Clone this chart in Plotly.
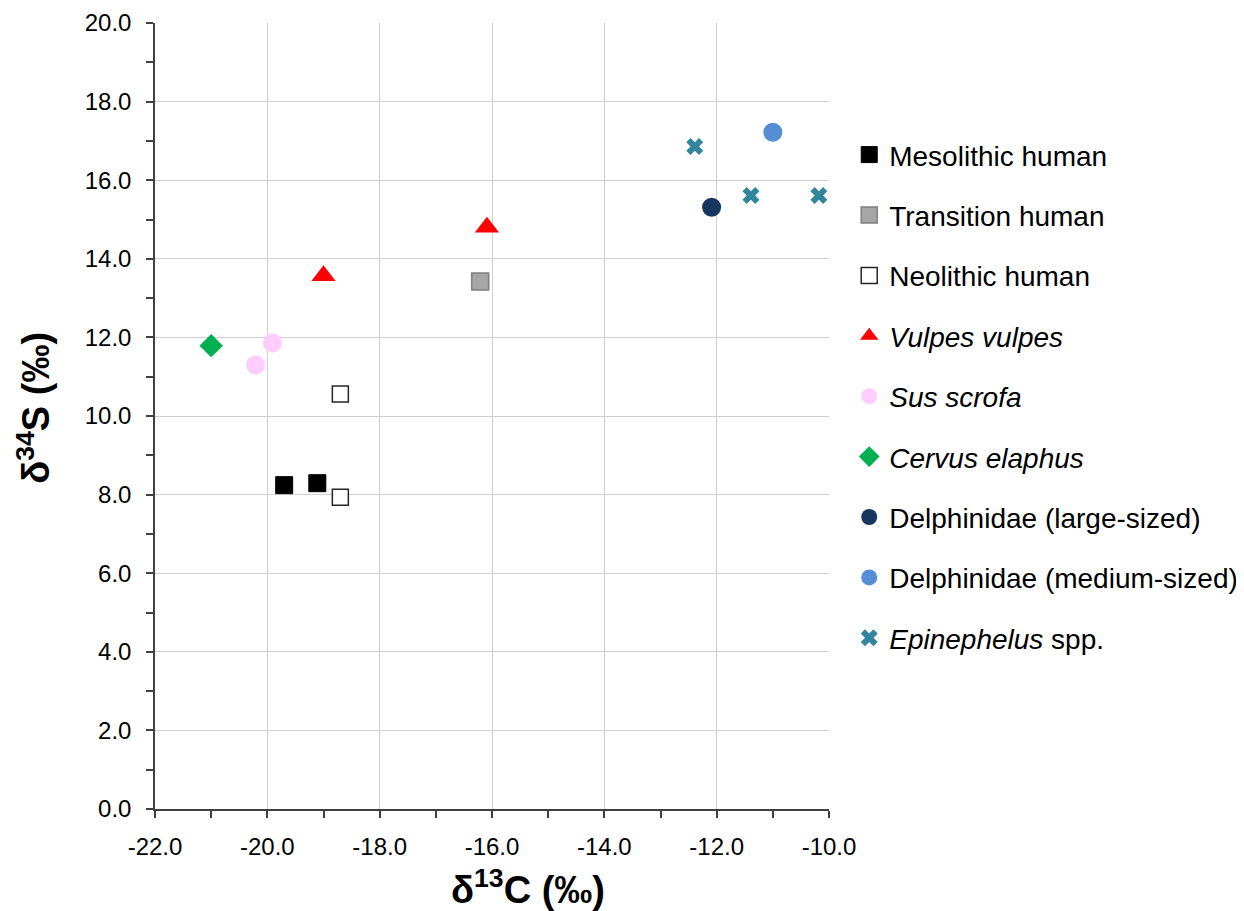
import plotly.graph_objects as go

meso_x = [-19.70, -19.11]
meso_y = [8.24, 8.29]
trans_x = [-16.21]
trans_y = [13.42]
neo_x = [-18.70, -18.70]
neo_y = [10.56, 7.93]
vulpes_x = [-19.00, -16.09]
vulpes_y = [13.57, 14.80]
sus_x = [-20.21, -19.91]
sus_y = [11.30, 11.86]
cervus_x = [-21.00]
cervus_y = [11.79]
delph_l_x = [-12.09]
delph_l_y = [15.31]
delph_m_x = [-11.00]
delph_m_y = [17.22]
epi_x = [-12.39, -11.39, -10.18]
epi_y = [16.86, 15.61, 15.61]

x_ticks = [-22, -20, -18, -16, -14, -12, -10]
x_labels = ["-22.0", "-20.0", "-18.0", "-16.0", "-14.0", "-12.0", "-10.0"]
y_ticks = [0, 2, 4, 6, 8, 10, 12, 14, 16, 18, 20]
y_labels = ["0.0", "2.0", "4.0", "6.0", "8.0", "10.0", "12.0", "14.0", "16.0", "18.0", "20.0"]

FONT = "Liberation Sans, Arial, sans-serif"

series = [
    ("Mesolithic human", meso_x, meso_y, "square", 17, "#000000", "#000000", 1),
    ("Transition human", trans_x, trans_y, "square", 17, "#A6A6A6", "#7F7F7F", 1.5),
    ("Neolithic human", neo_x, neo_y, "square", 16, "#FFFFFF", "#262626", 1.5),
    ("<i>Vulpes vulpes</i>", vulpes_x, vulpes_y, "triangle-up", 21, "#FF0000", "#FF0000", 0),
    ("<i>Sus scrofa</i>", sus_x, sus_y, "circle", 19, "#FFCCFF", "#FFCCFF", 0),
    ("<i>Cervus elaphus</i>", cervus_x, cervus_y, "diamond", 18, "#00B050", "#00B050", 0),
    ("Delphinidae (large-sized)", delph_l_x, delph_l_y, "circle", 19, "#17375E", "#17375E", 0),
    ("Delphinidae (medium-sized)", delph_m_x, delph_m_y, "circle", 19, "#558ED5", "#558ED5", 0),
    ("<i>Epinephelus</i> spp.", epi_x, epi_y, "x", 15, "#31859C", "#31859C", 0),
]

fig = go.Figure()
for i, (name, xs, ys, sym, size, fill, line, lw) in enumerate(series):
    fig.add_trace(go.Scatter(
        x=xs, y=ys, mode="markers", name=name, legendgroup=f"g{i}",
        marker=dict(symbol=sym, size=size, color=fill, line=dict(color=line, width=lw)),
    ))

# page body has an 8px margin: offsets compensate so the plot area lands at 155..829 x 23..809
fig.update_layout(
    width=1244, height=911,
    paper_bgcolor="white", plot_bgcolor="white",
    font=dict(family=FONT, color="#000000", size=24),
    margin=dict(l=147, r=423, t=15, b=110, autoexpand=False),
    showlegend=True,
    legend=dict(x=1.03, xanchor="left", y=0.864, yanchor="top",
                font=dict(size=28, family=FONT), tracegroupgap=21,
                itemsizing="trace", itemwidth=30, bgcolor="rgba(0,0,0,0)"),
    xaxis=dict(range=[-22, -10], tickvals=x_ticks, ticktext=x_labels,
               automargin=False,
               showgrid=True, gridcolor="#CFCFCF", gridwidth=1.3,
               zeroline=False, showline=True, linecolor="#404040", linewidth=1.5,
               ticks="outside", ticklen=7, tickcolor="#404040", tickwidth=1.5,
               ticklabelstandoff=8,
               minor=dict(dtick=1, ticks="outside", ticklen=7, tickcolor="#404040", showgrid=False),
               tickfont=dict(size=24)),
    yaxis=dict(range=[0, 20], tickvals=y_ticks, ticktext=y_labels,
               automargin=False,
               showgrid=True, gridcolor="#CFCFCF", gridwidth=1.3,
               zeroline=False, showline=True, linecolor="#404040", linewidth=1.5,
               ticks="outside", ticklen=7, tickcolor="#404040", tickwidth=1.5,
               ticklabelstandoff=10,
               minor=dict(dtick=1, ticks="outside", ticklen=7, tickcolor="#404040", showgrid=False),
               tickfont=dict(size=24)),
)

fig.add_annotation(text="<b>δ<sup>13</sup>C (‰)</b>", xref="paper", yref="paper",
                   x=0.553, y=-0.066, xanchor="center", yanchor="top",
                   showarrow=False, font=dict(size=38, family=FONT))
fig.add_annotation(text="<b>δ<sup>34</sup>S (‰)</b>", xref="paper", yref="paper",
                   x=-0.18, y=0.51, xanchor="center", yanchor="middle", textangle=-90,
                   showarrow=False, font=dict(size=38, family=FONT))

fig.write_html("out.html")
